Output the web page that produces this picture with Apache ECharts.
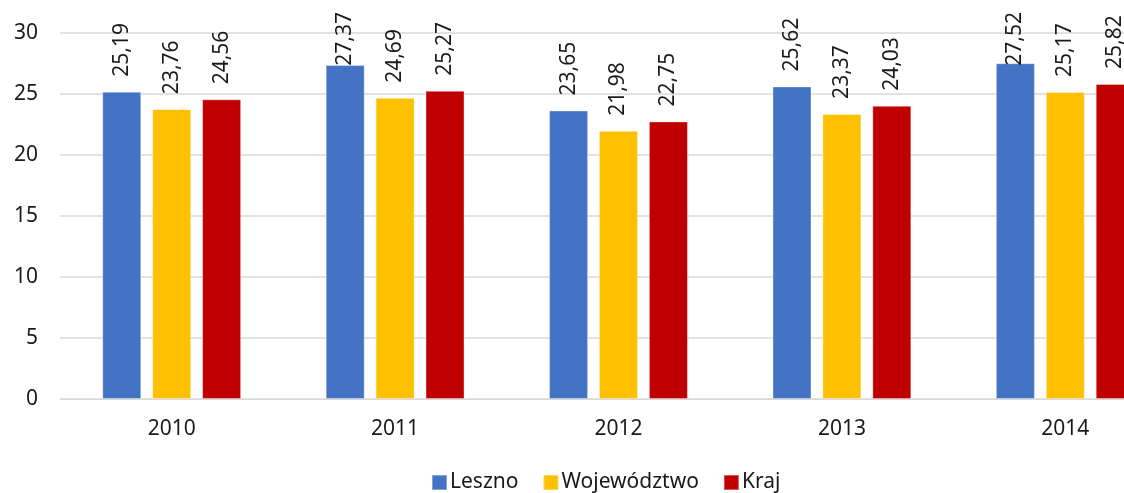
<!DOCTYPE html>
<html>
<head>
<meta charset="utf-8">
<script src="https://cdn.jsdelivr.net/npm/echarts@6/dist/echarts.min.js"></script>
<style>
  html, body { margin: 0; padding: 0; background: #fff; }
  #chart { width: 1124px; height: 493px; }
</style>
</head>
<body>
<div id="chart"></div>
<script>
// Years shown along the x axis
const years = ['2010', '2011', '2012', '2013', '2014'];

// Values per area
const leszno      = [25.19, 27.37, 23.65, 25.62, 27.52];
const wojewodztwo = [23.76, 24.69, 21.98, 23.37, 25.17];
const kraj        = [24.56, 25.27, 22.75, 24.03, 25.82];

const seriesNames  = ['Leszno', 'Województwo', 'Kraj'];
const seriesColors = ['#4472C4', '#FFC000', '#C00000'];
const seriesValues = [leszno, wojewodztwo, kraj];

const FONT = '"Noto Sans", "DejaVu Sans", sans-serif';
const LABEL_SIZE = 21;
const LABEL_GAP = 15;       // preferred gap between bar top and its label
const LABEL_TOP_LIMIT = 12; // labels are kept below this y position

const fmt = v => v.toFixed(2).replace('.', ',');

const chart = echarts.init(document.getElementById('chart'), null, { renderer: 'canvas' });

function buildSeries(distances) {
  return seriesValues.map((vals, si) => ({
    name: seriesNames[si],
    type: 'bar',
    barWidth: 39,
    barGap: '28%',
    itemStyle: { color: seriesColors[si], borderColor: 'rgba(255,255,255,0.35)', borderWidth: 1 },
    data: vals.map((v, ci) => ({
      value: v,
      label: { distance: distances ? distances[si][ci] : LABEL_GAP }
    })),
    label: {
      show: true,
      position: 'top',
      rotate: 90,
      align: 'left',
      verticalAlign: 'middle',
      fontFamily: FONT,
      fontSize: LABEL_SIZE,
      color: '#1a1a1a',
      formatter: p => fmt(p.value)
    }
  }));
}

chart.setOption({
  animation: false,
  textStyle: { fontFamily: FONT },
  // the last group runs past the right edge of the chart
  grid: {
    left: 60, top: 33, width: 1117, height: 366,
    containLabel: false,
    outerBoundsMode: 'none'
  },
  legend: {
    top: 472,
    left: 431,
    padding: 0,
    itemWidth: 15,
    itemHeight: 15,
    itemGap: 24,
    icon: 'rect',
    textStyle: { fontFamily: FONT, fontSize: 21, color: '#1a1a1a', padding: [0, 0, 0, -2] },
    data: seriesNames
  },
  xAxis: {
    type: 'category',
    data: years,
    axisLine: { show: true, lineStyle: { color: '#D9D9D9', width: 1 } },
    axisTick: { show: false },
    axisLabel: { margin: 20, fontFamily: FONT, fontSize: 21, color: '#1a1a1a' }
  },
  yAxis: {
    type: 'value',
    min: 0,
    max: 30,
    interval: 5,
    axisLine: { show: false },
    axisTick: { show: false },
    splitLine: { lineStyle: { color: '#D9D9D9', width: 1.5 } },
    axisLabel: { margin: 22, fontFamily: FONT, fontSize: 21, color: '#1a1a1a' }
  },
  series: buildSeries(null)
});

// Keep tall labels inside the chart: shift them down when they would run off the top
const ctx = document.createElement('canvas').getContext('2d');
ctx.font = LABEL_SIZE + 'px ' + FONT;
const distances = seriesValues.map((vals, si) => vals.map((v, ci) => {
  const barTop = chart.convertToPixel({ seriesIndex: si }, [ci, v])[1];
  const len = ctx.measureText(fmt(v)).width;
  return Math.min(LABEL_GAP, barTop - LABEL_TOP_LIMIT - len);
}));
chart.setOption({ series: buildSeries(distances) });
</script>
</body>
</html>
